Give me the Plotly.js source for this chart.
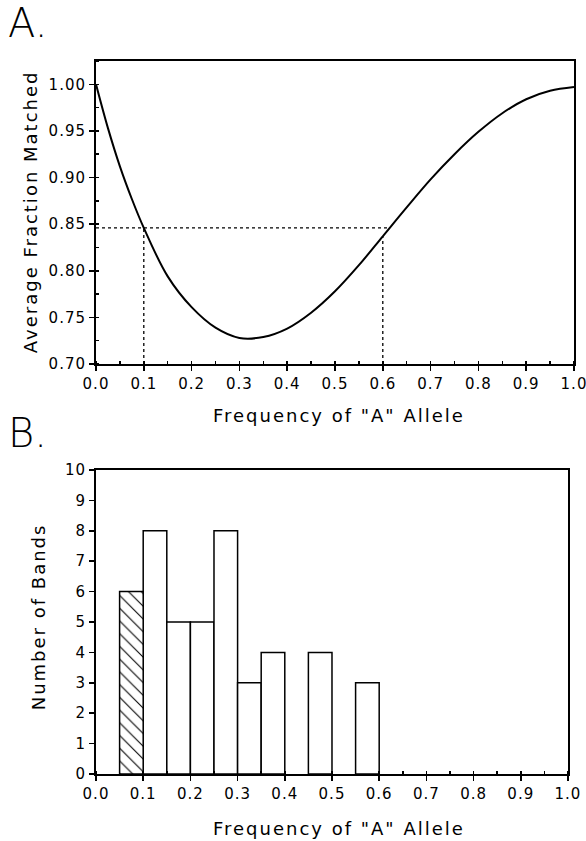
<!DOCTYPE html>
<html>
<head>
<meta charset="utf-8">
<script src="https://cdn.plot.ly/plotly-3.0.1.min.js"></script>
<style>
html,body{margin:0;padding:0;background:#fff;}
#chart{width:586px;height:841px;}
#chart .annotation-text.spaced{letter-spacing:2px;}
#chart .xtick text, #chart .ytick text, #chart .x2tick text, #chart .y2tick text{letter-spacing:1px;}
</style>
</head>
<body>
<div id="chart"></div>
<script>
// Panel A: average fraction matched vs frequency of "A" allele
var alleleFreq = [0.00, 0.025, 0.05, 0.075, 0.10, 0.15, 0.20, 0.25, 0.30, 0.35, 0.40, 0.45, 0.50, 0.55, 0.60, 0.65, 0.70, 0.75, 0.80, 0.85, 0.90, 0.95, 1.00];
var fractionMatched = [1.000, 0.953, 0.912, 0.877, 0.846, 0.794, 0.761, 0.739, 0.728, 0.729, 0.738, 0.755, 0.778, 0.806, 0.837, 0.868, 0.898, 0.925, 0.949, 0.969, 0.984, 0.993, 0.997];

// Reference (dotted) guide lines
var guideLevel = 0.846;
var guideFreqLow = 0.10;
var guideFreqHigh = 0.60;
var guideCurveHigh = 0.837;
var guideEndX = 0.613;

// Panel B: histogram of band counts
var binStart = [0.05, 0.10, 0.15, 0.20, 0.25, 0.30, 0.35, 0.45, 0.55];
var bandCount = [6, 8, 5, 5, 8, 3, 4, 4, 3];
var binWidth = 0.05;
var hatchedBins = [0.05];

var xTicks = [0, 0.1, 0.2, 0.3, 0.4, 0.5, 0.6, 0.7, 0.8, 0.9, 1.0];
var xTickText = ["0.0","0.1","0.2","0.3","0.4","0.5","0.6","0.7","0.8","0.9","1.0"];
var yTicksA = [0.70, 0.75, 0.80, 0.85, 0.90, 0.95, 1.00];
var yTickTextA = ["0.70","0.75","0.80","0.85","0.90","0.95","1.00"];
var yTicksB = [0,1,2,3,4,5,6,7,8,9,10];

var font = "DejaVu Sans, Verdana, sans-serif";
var lightFont = "DejaVu Sans ExtraLight, DejaVu Sans, sans-serif";
var dashStyle = "3px,3px";

var plainX = [], plainY = [], hatchX = [], hatchY = [];
for (var i = 0; i < binStart.length; i++) {
  var c = binStart[i] + binWidth / 2;
  if (hatchedBins.indexOf(binStart[i]) >= 0) { hatchX.push(c); hatchY.push(bandCount[i]); }
  else { plainX.push(c); plainY.push(bandCount[i]); }
}

var traces = [
  { x: [0, guideEndX], y: [guideLevel, guideLevel], mode: 'lines', xaxis: 'x', yaxis: 'y',
    line: { color: '#000', width: 1.3, dash: dashStyle }, hoverinfo: 'skip' },
  { x: [guideFreqLow, guideFreqLow], y: [0.70, guideLevel], mode: 'lines', xaxis: 'x', yaxis: 'y',
    line: { color: '#000', width: 1.3, dash: dashStyle }, hoverinfo: 'skip' },
  { x: [guideFreqHigh, guideFreqHigh], y: [0.70, guideCurveHigh], mode: 'lines', xaxis: 'x', yaxis: 'y',
    line: { color: '#000', width: 1.3, dash: dashStyle }, hoverinfo: 'skip' },
  { x: alleleFreq, y: fractionMatched, mode: 'lines', xaxis: 'x', yaxis: 'y',
    line: { color: '#000', width: 2, shape: 'spline', smoothing: 1 } },
  { type: 'bar', x: plainX, y: plainY, width: binWidth, xaxis: 'x2', yaxis: 'y2',
    marker: { color: '#fff', line: { color: '#000', width: 1.5 } } },
  { type: 'bar', x: hatchX, y: hatchY, width: binWidth, xaxis: 'x2', yaxis: 'y2',
    marker: { color: '#fff', line: { color: '#000', width: 1.5 },
      pattern: { shape: '\\', fgcolor: '#000', bgcolor: '#fff', size: 9, solidity: 0.12 } } }
];

var axisCommon = {
  showgrid: false, zeroline: false, showline: true, linecolor: '#000', linewidth: 2,
  mirror: true, ticks: 'outside', ticklen: 5, tickwidth: 1.5, tickcolor: '#000',
  tickfont: { family: font, size: 15, color: '#000' }
};

function merge(a, b) { var o = {}; for (var k in a) o[k] = a[k]; for (var k2 in b) o[k2] = b[k2]; return o; }

function titleAnn(text, x, y, angle) {
  return { text: text, xref: 'paper', yref: 'paper', x: x, y: y, textangle: angle || 0,
    showarrow: false, xanchor: 'center', yanchor: 'middle',
    font: { family: font, size: 18, color: '#000' } };
}

var layout = {
  width: 586, height: 841,
  margin: { l: 96, r: 12, t: 61, b: 67 },
  paper_bgcolor: '#fff', plot_bgcolor: '#fff',
  showlegend: false,
  font: { family: font, color: '#000' },
  xaxis: merge(axisCommon, { domain: [0, 1], range: [0, 1], anchor: 'y',
    tickvals: xTicks, ticktext: xTickText,
    minor: { dtick: 0.05, ticks: 'inside', ticklen: 3, tickcolor: '#000' } }),
  yaxis: merge(axisCommon, { domain: [0.575, 1], range: [0.70, 1.025], anchor: 'x',
    tickvals: yTicksA, ticktext: yTickTextA,
    minor: { dtick: 0.025, ticks: 'inside', ticklen: 3, tickcolor: '#000' } }),
  xaxis2: merge(axisCommon, { domain: [0, 0.9874], range: [0, 1], anchor: 'y2',
    tickvals: xTicks, ticktext: xTickText,
    minor: { dtick: 0.05, ticks: 'inside', ticklen: 3, tickcolor: '#000' } }),
  yaxis2: merge(axisCommon, { domain: [0, 0.4264], range: [0, 10], anchor: 'x2',
    tickvals: yTicksB }),
  bargap: 0,
  annotations: [
    { text: 'A.', xref: 'paper', yref: 'paper', x: -0.144, y: 1.053, showarrow: false,
      xanchor: 'center', yanchor: 'middle', font: { family: lightFont, size: 40, weight: 200, color: '#000' } },
    { text: 'B.', xref: 'paper', yref: 'paper', x: -0.144, y: 0.478, showarrow: false,
      xanchor: 'center', yanchor: 'middle', font: { family: lightFont, size: 40, weight: 200, color: '#000' } },
    titleAnn('Average Fraction Matched', -0.138, 0.788, -90),
    titleAnn('Frequency of "A" Allele', 0.508, 0.5035, 0),
    titleAnn('Number of Bands', -0.121, 0.220, -90),
    titleAnn('Frequency of "A" Allele', 0.508, -0.0771, 0)
  ]
};

Plotly.newPlot('chart', traces, layout, { staticPlot: true, displayModeBar: false }).then(function () {
  var texts = document.querySelectorAll('#chart .annotation-text');
  texts.forEach(function (t) {
    var s = t.textContent;
    if (s !== 'A.' && s !== 'B.') t.classList.add('spaced');
  });
});
</script>
</body>
</html>
